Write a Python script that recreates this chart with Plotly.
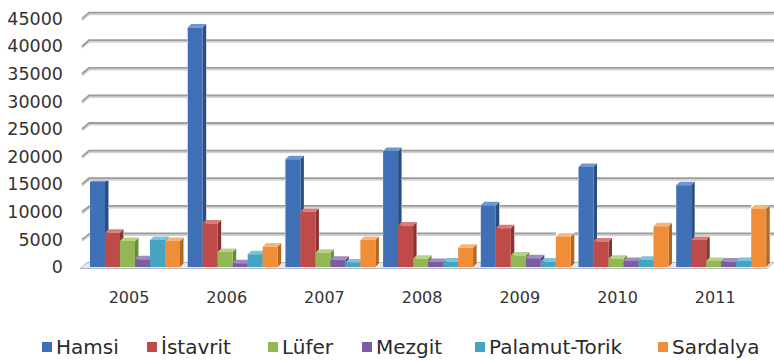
import plotly.graph_objects as go

# ---- data -------------------------------------------------------------
years = ["2005", "2006", "2007", "2008", "2009", "2010", "2011"]
series_names = ["Hamsi", "İstavrit", "Lüfer", "Mezgit", "Palamut-Torik", "Sardalya"]
hamsi = [15400, 43400, 19500, 21000, 11200, 18100, 14800]
istavrit = [6200, 7900, 10000, 7500, 7000, 4600, 4900]
lufer = [4700, 2700, 2600, 1500, 2100, 1500, 1100]
mezgit = [1400, 700, 1300, 900, 1600, 1100, 1000]
palamut_torik = [4900, 2300, 800, 1000, 1000, 1300, 1100]
sardalya = [4700, 3700, 4900, 3500, 5500, 7400, 10600]
y_ticks = [0, 5000, 10000, 15000, 20000, 25000, 30000, 35000, 40000, 45000]

series_values = [hamsi, istavrit, lufer, mezgit, palamut_torik, sardalya]

# ---- styling ----------------------------------------------------------
front_colors = ["#3F6FB4", "#BE4B48", "#94B756", "#7B5EA0", "#45A4C2", "#F08D37"]
side_colors = ["#2B4E82", "#8A3230", "#6B8A3B", "#573F76", "#2F7890", "#B5661F"]
top_colors = ["#6E97D2", "#D97C79", "#B6D384", "#A28BC3", "#7CC4DA", "#F8B57A"]
GRID_COLOR = "#9c9c9c"
GRID_SHADOW = "#d2d2d2"

W, H = 774, 360
PLOT_L, PLOT_R, PLOT_T, PLOT_B = 80, 774, 0, 275
PX_PER_CAT = 97.7          # horizontal spacing of the year groups
PX_PER_UNIT = 5.52 / 1000  # vertical scale (px per ton)
ZERO_PX = 267              # pixel row of value 0 at the front
FIRST_TICK_PX = 129        # pixel column of the first year label
XMIN = -(FIRST_TICK_PX - PLOT_L) / PX_PER_CAT
XMAX = XMIN + (PLOT_R - PLOT_L) / PX_PER_CAT
YMIN = -(PLOT_B - ZERO_PX) / PX_PER_UNIT
YMAX = YMIN + (PLOT_B - PLOT_T) / PX_PER_UNIT

BAR_W = 15 / PX_PER_CAT            # front face width
GROUP_START = -39 / PX_PER_CAT     # left edge of a group relative to its tick
DX = 3.5 / PX_PER_CAT              # column depth (x)
DY = 3.5 / PX_PER_UNIT             # column depth (y)
WALL_DX = 7 / PX_PER_CAT           # side-wall / floor depth (x)
WALL_DY = 6 / PX_PER_UNIT          # side-wall / floor depth (y)


def cat_x(px):
    return XMIN + (px - PLOT_L) / PX_PER_CAT


def polygons(polys):
    """Join several closed polygons into one x/y list separated by gaps."""
    xs, ys = [], []
    for poly in polys:
        for x, y in poly:
            xs.append(x)
            ys.append(y)
        xs.append(poly[0][0])
        ys.append(poly[0][1])
        xs.append(None)
        ys.append(None)
    return xs, ys


def face_trace(polys, color, line_color=None):
    xs, ys = polygons(polys)
    return go.Scatter(
        x=xs, y=ys, mode="lines", fill="toself", fillcolor=color,
        line=dict(width=1 if line_color else 0, color=line_color or color),
        hoverinfo="skip", showlegend=False,
    )


traces = []

# floor
floor_front = -1.5 / PX_PER_UNIT
fl, fr = cat_x(PLOT_L), cat_x(767)
traces.append(face_trace(
    [[(fl, floor_front), (fr, floor_front),
      (fr + WALL_DX, floor_front + WALL_DY), (fl + WALL_DX, floor_front + WALL_DY)]],
    "#e4e7ec", "#b3b8c1"))

# columns: side, top and front faces, series by series from left to right
column_spans = []   # (x_left, x_right, top value incl. depth) of every column
for j, (name, vals) in enumerate(zip(series_names, series_values)):
    offset = GROUP_START + j * BAR_W
    sides, tops, fronts = [], [], []
    for i, v in enumerate(vals):
        x0 = i + offset
        x1 = x0 + BAR_W
        sides.append([(x1, 0), (x1 + DX, DY), (x1 + DX, v + DY), (x1, v)])
        tops.append([(x0, v), (x1, v), (x1 + DX, v + DY), (x0 + DX, v + DY)])
        fronts.append([(x0, 0), (x1, 0), (x1, v), (x0, v)])
        column_spans.append((x0, x1 + DX, v + DY))
    traces.append(face_trace(sides, side_colors[j]))
    traces.append(face_trace(tops, top_colors[j]))
    front = face_trace(fronts, front_colors[j])
    front.name = name
    traces.append(front)

# gridlines on the back wall, interrupted wherever a column stands in front
wall_front = cat_x(82)
wall_back = wall_front + WALL_DX


def grid_segments(level, drop):
    xs, ys = [], []
    for v in y_ticks[1:]:
        y_back = v + WALL_DY - drop
        hidden = sorted((a, b) for a, b, top in column_spans if top > v + WALL_DY)
        merged = []
        for a, b in hidden:
            if merged and a <= merged[-1][1] + 1e-9:
                merged[-1][1] = max(merged[-1][1], b)
            else:
                merged.append([a, b])
        xs += [wall_front, wall_back]
        ys += [v - drop, y_back]
        for a, b in merged:
            xs += [a, None, b]
            ys += [y_back, None, y_back]
        xs += [XMAX, None]
        ys += [y_back, None]
    return go.Scatter(
        x=xs, y=ys, mode="lines", line=dict(color=level[0], width=level[1]),
        hoverinfo="skip", showlegend=False, connectgaps=False,
    )


traces.append(grid_segments((GRID_SHADOW, 2.0), 1.6 / PX_PER_UNIT))
traces.append(grid_segments((GRID_COLOR, 1.8), 0))

fig = go.Figure(traces)


def paper_x(px):
    return (px - PLOT_L) / (PLOT_R - PLOT_L)


def paper_y(py):
    return (PLOT_B - py) / (PLOT_B - PLOT_T)


# legend row
legend_square_x = [42, 147, 268, 362, 475, 658]
legend_y = 347
shapes, annotations = [], []
for j, name in enumerate(series_names):
    sx = legend_square_x[j]
    shapes.append(dict(
        type="rect", xref="paper", yref="paper",
        x0=paper_x(sx), x1=paper_x(sx + 10),
        y0=paper_y(legend_y + 5), y1=paper_y(legend_y - 5),
        fillcolor=front_colors[j], line=dict(width=0),
    ))
    annotations.append(dict(
        xref="paper", yref="paper",
        x=paper_x(sx + 12), y=paper_y(legend_y),
        xanchor="left", yanchor="middle", showarrow=False,
        text=name, font=dict(family="DejaVu Sans", size=20, color="#2b2b2b"),
    ))

fig.update_layout(
    width=W, height=H,
    margin=dict(l=PLOT_L, r=W - PLOT_R, t=PLOT_T, b=H - PLOT_B, pad=0),
    paper_bgcolor="white", plot_bgcolor="white",
    shapes=shapes, annotations=annotations,
    xaxis=dict(
        range=[XMIN, XMAX], tickmode="array",
        tickvals=list(range(len(years))), ticktext=years,
        showgrid=False, zeroline=False, showline=False, ticks="",
        ticklabelstandoff=11,
        tickfont=dict(family="DejaVu Sans", size=16, color="#333333"),
        fixedrange=True,
    ),
    yaxis=dict(
        range=[YMIN, YMAX], tickmode="array", tickvals=y_ticks,
        ticktext=[str(v) for v in y_ticks],
        showgrid=False, zeroline=False, showline=False, ticks="",
        ticklabelstandoff=16,
        tickfont=dict(family="DejaVu Sans", size=17.5, color="#333333"),
        fixedrange=True,
    ),
    showlegend=False,
)

fig.write_html("out.html")
